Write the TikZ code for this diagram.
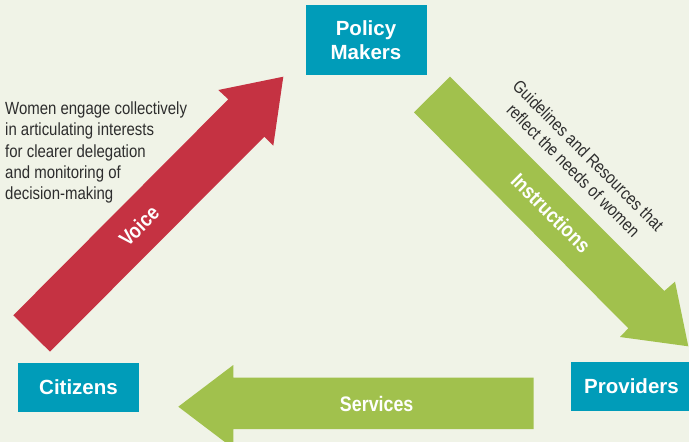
\documentclass[tikz,border=0pt]{standalone}
\usepackage{fontspec}
\setmainfont{Liberation Sans}
\newfontfamily\condsans[FakeStretch=0.85]{Liberation Sans}
\definecolor{bgbeige}{RGB}{240,243,231}
\definecolor{boxteal}{RGB}{0,156,185}
\definecolor{voicered}{RGB}{197,50,66}
\definecolor{leafgreen}{RGB}{161,193,77}
\definecolor{txtgray}{RGB}{45,45,45}
\begin{document}
\begin{tikzpicture}[x=1pt,y=-1pt,
  actor/.style={fill=boxteal, text=white, font=\fontsize{20.5}{24.3}\selectfont\bfseries,
    minimum width=121pt, inner sep=0pt, align=center},
  arrowlabel/.style={text=white, inner sep=0pt, font=\condsans\bfseries\fontsize{21}{25}\selectfont},
  note/.style={text=txtgray, inner sep=0pt, font=\condsans\fontsize{17.6}{21.2}\selectfont}]
\useasboundingbox (0,0) rectangle (689,442);
\clip (0,0) rectangle (689,442);
\fill[bgbeige] (0,0) rectangle (689,442);

% actors
\node[actor, minimum height=70pt] (policy) at (366,40) {Policy\\Makers};
\node[actor, minimum height=49pt] (citizens) at (78.5,387.5) {Citizens};
\node[actor, minimum height=49pt] (providers) at (631.5,386.5) {Providers};

% Voice arrow
\fill[voicered] (13.3,315.3) -- (228.3,99.3) -- (218.3,90) -- (283.3,76.7)
  -- (273.3,145.7) -- (264.3,136.7) -- (50,351.7) -- cycle;
% Instructions arrow
\fill[leafgreen] (450,76.7) -- (664.3,291) -- (675,281.7) -- (688.3,346.3)
  -- (620,337) -- (628.3,328.3) -- (414,112.3) -- cycle;
% Services arrow
\fill[leafgreen] (533.7,377.7) -- (233.3,377.7) -- (233.3,365) -- (178.3,406.7)
  -- (233.3,448.4) -- (233.3,429) -- (533.7,429) -- cycle;

% arrow labels
\node[arrowlabel, rotate=45] (voice) at (139,226) {Voice};
\node[arrowlabel, rotate=-45] (instr) at (551,213) {Instructions};
\node[arrowlabel] (services) at (376.7,404) {Services};

% notes
\node[note, anchor=north west, align=left] (women) at (5,101.7)
  {Women engage collectively\\in articulating interests\\for clearer delegation\\and monitoring of\\decision-making};
\node[note, rotate=-45, align=center] (guide) at (581,163)
  {Guidelines and Resources that\\reflect the needs of women};
\end{tikzpicture}
\end{document}
